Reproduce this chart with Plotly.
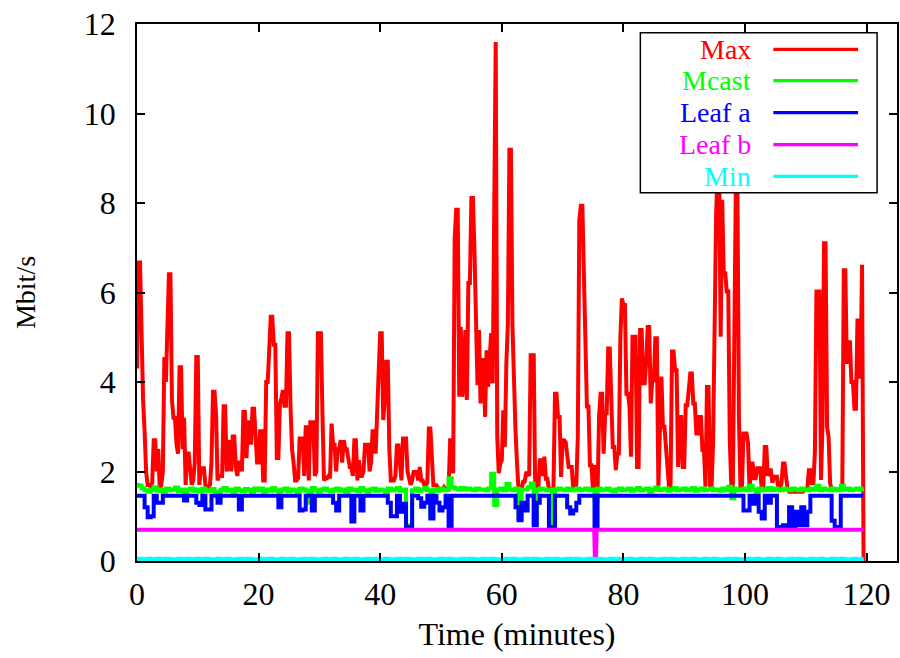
import plotly.graph_objects as go

FINE_STEP = 0.25   # Max series sampling interval (minutes)
COARSE_STEP = 0.5  # other series sampling interval (minutes)

max_mbps = [
    # 0-10 min
    4.3, 6.67, 6.67, 4.8, 3.6, 2.9, 2.0, 1.7, 1.7, 1.65, 1.75, 2.7, 2.7, 2.0, 2.5, 1.6, 1.7, 2.0, 4.56, 4.0,
    5.35, 6.41, 6.41, 3.6, 3.2, 3.2, 2.6, 2.4, 4.33, 4.33, 2.5, 3.2, 1.7, 2.4, 2.4, 2.0, 1.7, 1.8, 2.2, 4.56,
    # 10-20 min
    4.56, 1.7, 2.07, 2.07, 2.07, 1.7, 1.65, 1.65, 1.7, 2.2, 3.78, 3.78, 3.3, 1.8, 1.9, 1.9, 1.9, 3.46, 3.46, 2.0,
    2.2, 2.7, 2.0, 2.78, 2.78, 2.1, 1.9, 2.2, 2.2, 2.0, 3.33, 3.33, 2.3, 3.1, 3.1, 2.6, 3.4, 3.4, 2.75, 2.2,
    # 20-30 min
    2.2, 2.9, 2.9, 1.8, 1.8, 4.0, 4.0, 5.0, 5.46, 5.46, 4.83, 4.83, 2.3, 2.3, 3.5, 3.64, 3.82, 3.47, 3.47, 5.09,
    5.09, 3.45, 2.5, 2.2, 1.8, 1.8, 1.85, 2.74, 2.74, 2.74, 1.9, 2.99, 2.99, 1.8, 3.1, 3.1, 3.1, 1.9, 2.0, 5.09,
    # 30-40 min
    5.09, 5.09, 3.3, 1.8, 1.85, 1.85, 1.9, 1.85, 3.07, 2.6, 2.6, 2.0, 2.5, 2.5, 2.7, 2.2, 2.7, 2.5, 2.5, 2.3,
    2.1, 2.1, 1.9, 2.7, 2.7, 1.8, 2.25, 1.9, 1.9, 2.0, 2.6, 2.6, 2.6, 2.0, 2.2, 2.9, 2.9, 2.4, 3.67, 4.23,
    # 40-50 min
    5.09, 5.09, 3.15, 3.6, 4.45, 4.45, 2.5, 1.8, 1.8, 1.8, 1.9, 2.58, 2.58, 2.2, 1.8, 2.74, 2.74, 2.74, 2.0, 1.8,
    1.7, 1.8, 1.99, 1.99, 1.99, 1.8, 2.1, 1.8, 1.8, 1.7, 1.7, 1.75, 2.96, 2.96, 2.44, 1.69, 1.69, 1.69, 1.65, 1.6,
    # 50-60 min
    1.6, 1.6, 1.65, 1.6, 1.6, 1.6, 2.7, 2.7, 1.96, 7.21, 7.85, 7.85, 3.67, 5.23, 3.67, 4.04, 5.16, 3.6, 6.21, 6.21,
    8.11, 8.11, 6.95, 5.05, 3.93, 5.16, 3.52, 4.49, 4.49, 3.22, 4.71, 3.89, 4.71, 5.09, 3.97, 7.92, 11.6, 2.77, 1.96, 2.18,
    # 60-70 min
    2.25, 3.37, 2.55, 4.41, 5.31, 9.19, 9.19, 5.27, 3.86, 2.93, 2.18, 1.6, 1.6, 1.6, 1.77, 1.77, 1.96, 1.96, 1.9, 4.6,
    4.6, 4.6, 1.5, 1.6, 1.6, 2.25, 2.25, 1.9, 2.33, 1.84, 1.84, 1.6, 1.6, 1.6, 1.65, 3.74, 3.74, 3.22, 3.22, 1.88,
    # 70-80 min
    2.7, 2.7, 2.66, 2.4, 2.1, 2.1, 2.1, 1.6, 1.6, 1.7, 2.77, 7.62, 7.94, 7.94, 6.43, 4.34, 3.45, 3.45, 2.14, 2.14,
    1.55, 2.1, 2.1, 1.55, 3.22, 3.74, 3.74, 2.4, 3.3, 3.3, 4.75, 4.75, 3.45, 2.55, 2.55, 2.03, 2.4, 2.4, 4.98, 5.87,
    # 80-90 min
    5.72, 5.72, 3.74, 3.74, 3.45, 2.33, 5.01, 5.01, 5.01, 2.1, 2.1, 5.16, 5.16, 3.97, 3.97, 4.45, 5.23, 5.23, 3.52, 4.04,
    4.04, 4.98, 4.98, 1.66, 3.15, 4.12, 3.0, 3.0, 2.55, 2.03, 1.66, 1.66, 4.68, 4.68, 4.26, 4.26, 2.1, 3.22, 3.22, 2.1,
    # 90-100 min
    2.1, 3.48, 3.48, 3.82, 4.19, 4.19, 3.52, 3.52, 2.85, 2.85, 3.22, 3.22, 2.48, 2.48, 1.66, 3.89, 3.89, 1.66, 1.66, 2.63,
    5.54, 7.73, 8.78, 8.78, 5.01, 8.07, 6.43, 6.43, 6.02, 6.02, 2.7, 1.66, 1.66, 4.86, 8.48, 8.48, 3.22, 1.66, 1.66, 2.85,
    # 100-110 min
    2.85, 2.85, 2.63, 1.6, 2.18, 2.18, 1.85, 1.85, 2.07, 2.07, 2.07, 1.6, 1.6, 2.55, 2.55, 1.9, 2.03, 2.03, 1.75, 1.88,
    1.88, 1.88, 1.6, 1.6, 1.74, 2.18, 2.18, 1.9, 1.6, 1.55, 1.55, 1.55, 1.55, 1.55, 1.55, 1.55, 1.55, 1.55, 1.55, 1.6,
    # 110-119.5 min
    1.6, 1.6, 2.03, 2.03, 1.74, 1.74, 2.44, 6.02, 6.02, 6.02, 1.81, 3.07, 7.1, 7.1, 3.0, 2.77, 1.74, 1.6, 1.6, 1.6,
    1.6, 1.6, 1.6, 1.6, 1.6, 6.5, 6.5, 4.41, 4.71, 4.93, 4.0, 4.0, 3.4, 3.4, 5.42, 4.12, 4.12, 6.62, 0.0,
]

mcast_mbps = [
    1.70, 1.68, 1.62, 1.58, 1.55, 1.60, 1.65, 1.57, 1.60, 1.55, 1.62, 1.58, 1.60, 1.64, 1.56, 1.60, 1.38, 1.60, 1.62, 1.57,
    1.60, 1.55, 1.62, 1.58, 1.57, 1.61, 1.55, 1.40, 1.60, 1.63, 1.57, 1.60, 1.55, 1.62, 1.58, 1.56, 1.61, 1.59, 1.55, 1.62,
    1.58, 1.62, 1.55, 1.60, 1.57, 1.63, 1.58, 1.55, 1.60, 1.62, 1.56, 1.60, 1.58, 1.55, 1.62, 1.60, 1.57, 1.30, 1.63, 1.58,
    1.55, 1.60, 1.62, 1.58, 1.56, 1.60, 1.62, 1.57, 1.60, 1.55, 1.62, 1.58, 1.60, 1.56, 1.63, 1.58, 1.55, 1.60, 1.62, 1.57,
    1.60, 1.58, 1.55, 1.62, 1.58, 1.60, 1.63, 1.57, 1.60, 0.80, 0.80, 1.58, 1.62, 1.57, 1.60, 1.63, 1.58, 1.00, 1.60, 1.57,
    1.62, 1.58, 1.60, 1.85, 1.65, 1.62, 1.60, 1.63, 1.60, 1.62, 1.60, 1.58, 1.62, 1.60, 1.60, 1.58, 1.62, 1.95, 1.25, 1.60,
    1.62, 1.58, 1.72, 1.60, 1.58, 1.62, 0.95, 1.60, 1.60, 1.65, 1.73, 0.85, 1.60, 1.62, 1.60, 1.58, 1.60, 0.80, 1.60, 1.62,
    1.60, 1.58, 1.62, 1.58, 1.60, 1.62, 1.58, 1.60, 1.62, 1.58, 1.60, 1.35, 1.62, 1.58, 1.60, 1.62, 1.58, 1.56, 1.60, 1.62,
    1.58, 1.60, 1.62, 1.57, 1.60, 1.63, 1.58, 1.60, 1.62, 1.55, 1.60, 1.64, 1.58, 1.60, 1.62, 1.57, 1.60, 1.63, 1.58, 1.60,
    1.62, 1.58, 1.60, 1.63, 1.57, 1.60, 1.62, 1.58, 1.60, 1.62, 1.58, 1.60, 1.57, 1.62, 1.58, 1.66, 1.40, 1.62, 1.58, 1.60,
    1.62, 1.58, 1.68, 1.60, 1.55, 1.62, 1.58, 1.60, 1.63, 1.58, 1.62, 1.60, 1.58, 1.62, 1.60, 1.58, 1.62, 1.60, 1.58, 1.62,
    1.60, 1.58, 1.62, 1.60, 1.68, 1.58, 1.62, 1.60, 1.58, 1.62, 1.60, 1.58, 1.68, 1.60, 1.62, 1.58, 1.60, 1.62, 1.60, 1.62,
]

leaf_a_mbps = [
    1.46, 1.46, 1.46, 1.2, 0.98, 1.0, 1.46, 1.3, 1.3, 1.46, 1.46, 1.46, 1.46, 1.46, 1.46, 1.46, 1.35, 1.46, 1.46, 1.46,
    1.3, 1.25, 1.46, 1.15, 1.15, 1.46, 1.46, 1.3, 1.46, 1.46, 1.46, 1.46, 1.46, 1.46, 1.15, 1.46, 1.46, 1.46, 1.46, 1.46,
    1.46, 1.46, 1.46, 1.46, 1.46, 1.46, 1.46, 1.2, 1.46, 1.46, 1.46, 1.46, 1.46, 1.46, 1.13, 1.15, 1.46, 1.46, 1.13, 1.46,
    1.46, 1.46, 1.46, 1.46, 1.46, 1.3, 1.13, 1.46, 1.46, 1.46, 1.46, 0.88, 1.46, 1.46, 1.13, 1.46, 1.46, 1.46, 1.46, 1.46,
    1.46, 1.46, 1.46, 1.3, 1.0, 1.0, 1.46, 1.1, 1.28, 0.76, 0.76, 1.46, 1.46, 1.4, 1.21, 1.3, 1.46, 0.95, 1.46, 1.3,
    1.13, 1.2, 1.46, 0.76, 1.46, 1.46, 1.46, 1.46, 1.46, 1.46, 1.46, 1.46, 1.46, 1.46, 1.46, 1.46, 1.46, 1.46, 1.46, 1.46,
    1.46, 1.46, 1.46, 1.46, 1.46, 1.2, 0.91, 1.3, 1.13, 1.46, 1.46, 0.8, 1.3, 1.46, 1.46, 1.46, 0.76, 0.76, 1.46, 1.46,
    1.46, 1.46, 1.2, 1.06, 1.13, 1.3, 1.46, 1.46, 1.46, 1.46, 1.46, 0.76, 1.46, 1.46, 1.46, 1.46, 1.46, 1.46, 1.46, 1.46,
    1.46, 1.46, 1.46, 1.46, 1.46, 1.46, 1.46, 1.46, 1.46, 1.46, 1.46, 1.46, 1.46, 1.46, 1.46, 1.46, 1.46, 1.46, 1.46, 1.46,
    1.46, 1.46, 1.46, 1.46, 1.46, 1.46, 1.46, 1.46, 1.46, 1.46, 1.46, 1.46, 1.46, 1.46, 1.46, 1.46, 1.46, 1.46, 1.46, 1.46,
    1.13, 1.13, 1.46, 1.28, 1.46, 1.1, 0.95, 1.46, 1.3, 1.46, 1.46, 0.76, 0.76, 0.8, 0.76, 1.2, 0.76, 1.1, 0.8, 1.2,
    0.8, 1.1, 1.46, 1.46, 1.46, 1.46, 1.46, 1.46, 1.46, 0.9, 0.76, 0.76, 1.46, 1.46, 1.46, 1.46, 1.46, 1.46, 1.46, 1.46,
]

min_mbps = [
    0.04, 0.05, 0.04, 0.04, 0.05, 0.04, 0.04, 0.05, 0.04, 0.04, 0.05, 0.04, 0.04, 0.04, 0.05, 0.04, 0.04, 0.05, 0.04, 0.04,
    0.05, 0.04, 0.04, 0.05, 0.04, 0.04, 0.04, 0.05, 0.04, 0.04, 0.05, 0.04, 0.04, 0.04, 0.05, 0.04, 0.04, 0.05, 0.04, 0.04,
    0.04, 0.05, 0.04, 0.04, 0.05, 0.04, 0.04, 0.04, 0.05, 0.04, 0.04, 0.05, 0.04, 0.04, 0.04, 0.05, 0.04, 0.04, 0.05, 0.04,
    0.04, 0.04, 0.05, 0.04, 0.04, 0.05, 0.04, 0.04, 0.04, 0.05, 0.04, 0.04, 0.05, 0.04, 0.04, 0.04, 0.05, 0.04, 0.04, 0.05,
    0.04, 0.04, 0.05, 0.04, 0.04, 0.04, 0.05, 0.04, 0.04, 0.05, 0.04, 0.04, 0.04, 0.05, 0.04, 0.04, 0.05, 0.04, 0.04, 0.04,
    0.05, 0.04, 0.04, 0.05, 0.04, 0.04, 0.04, 0.05, 0.04, 0.04, 0.05, 0.04, 0.04, 0.04, 0.05, 0.04, 0.04, 0.05, 0.04, 0.04,
    0.04, 0.05, 0.04, 0.04, 0.05, 0.04, 0.04, 0.04, 0.05, 0.04, 0.04, 0.05, 0.04, 0.04, 0.04, 0.05, 0.04, 0.04, 0.05, 0.04,
    0.04, 0.04, 0.05, 0.04, 0.04, 0.05, 0.04, 0.04, 0.04, 0.05, 0.04, 0.04, 0.05, 0.04, 0.04, 0.04, 0.05, 0.04, 0.04, 0.05,
    0.04, 0.04, 0.05, 0.04, 0.04, 0.04, 0.05, 0.04, 0.04, 0.05, 0.04, 0.04, 0.04, 0.05, 0.04, 0.04, 0.05, 0.04, 0.04, 0.04,
    0.05, 0.04, 0.04, 0.05, 0.04, 0.04, 0.04, 0.05, 0.04, 0.04, 0.05, 0.04, 0.04, 0.04, 0.05, 0.04, 0.04, 0.05, 0.04, 0.04,
    0.04, 0.05, 0.04, 0.04, 0.05, 0.04, 0.04, 0.04, 0.05, 0.04, 0.04, 0.05, 0.04, 0.04, 0.04, 0.05, 0.04, 0.04, 0.05, 0.04,
    0.04, 0.04, 0.05, 0.04, 0.04, 0.05, 0.04, 0.04, 0.04, 0.05, 0.04, 0.04, 0.05, 0.04, 0.04, 0.04, 0.05, 0.04, 0.04, 0.05,
]

# Leaf b is flat except for one short drop
leaf_b_time = [0.0, 75.2, 75.3, 75.5, 75.6, 119.5]
leaf_b_mbps = [0.70, 0.70, 0.08, 0.08, 0.70, 0.70]

series_names = ["Max", "Mcast", "Leaf a", "Leaf b", "Min"]
series_colors = ["#ff0000", "#00ff00", "#0000ff", "#ff00ff", "#00ffff"]

x_ticks = [0, 20, 40, 60, 80, 100, 120]
y_ticks = [0, 2, 4, 6, 8, 10, 12]

time_fine = [i * FINE_STEP for i in range(len(max_mbps))]
time_coarse = [i * COARSE_STEP for i in range(len(mcast_mbps))]

FONT = "Liberation Serif, Times New Roman, serif"
FS = 32
LW = 4

fig = go.Figure()
data = [
    (time_fine, max_mbps, "linear"),
    (time_coarse, mcast_mbps, "hvh"),
    (time_coarse, leaf_a_mbps, "hvh"),
    (leaf_b_time, leaf_b_mbps, "linear"),
    (time_coarse, min_mbps, "hvh"),
]
for (xs, ys, shp), name, color in zip(data, series_names, series_colors):
    fig.add_trace(go.Scatter(x=xs, y=ys, mode="lines", name=name,
                             line=dict(color=color, width=LW, shape=shp), showlegend=False))

# gnuplot-style key: right-aligned label followed by a line sample
legend_rows_y = [0.9529, 0.8944, 0.8349, 0.7753, 0.7164]
annotations = []
shapes = [dict(type="rect", xref="paper", yref="paper", x0=0.6623, x1=0.9738,
               y0=0.6858, y1=0.9838, line=dict(color="black", width=1.5),
               fillcolor="white", layer="above")]
for name, color, yy in zip(series_names, series_colors, legend_rows_y):
    annotations.append(dict(text=name, xref="paper", yref="paper", x=0.811, y=yy,
                            xanchor="right", yanchor="middle", showarrow=False,
                            font=dict(family=FONT, size=28, color=color)))
    shapes.append(dict(type="line", xref="paper", yref="paper", x0=0.8373, x1=0.9488,
                       y0=yy, y1=yy, line=dict(color=color, width=3.3), layer="above"))

axis_common = dict(showline=True, linecolor="black", linewidth=1.5, mirror="ticks",
                   ticks="inside", ticklen=8, tickwidth=1.5, tickcolor="black",
                   showgrid=False, zeroline=False,
                   tickfont=dict(family=FONT, size=FS, color="black"))

fig.update_layout(
    width=900, height=658,
    margin=dict(l=137, r=1, t=24, b=97),
    paper_bgcolor="white", plot_bgcolor="white",
    xaxis=dict(range=[0, 125], tickvals=x_ticks, ticklabelstandoff=4,
               title=dict(text="Time (minutes)", font=dict(family=FONT, size=FS, color="black"),
                          standoff=11),
               **axis_common),
    yaxis=dict(range=[0, 12], tickvals=y_ticks, ticklabelstandoff=13,
               title=dict(text="Mbit/s", font=dict(family=FONT, size=28, color="black"),
                          standoff=40),
               **axis_common),
    shapes=shapes,
    annotations=annotations,
)

fig.write_html("out.html")
